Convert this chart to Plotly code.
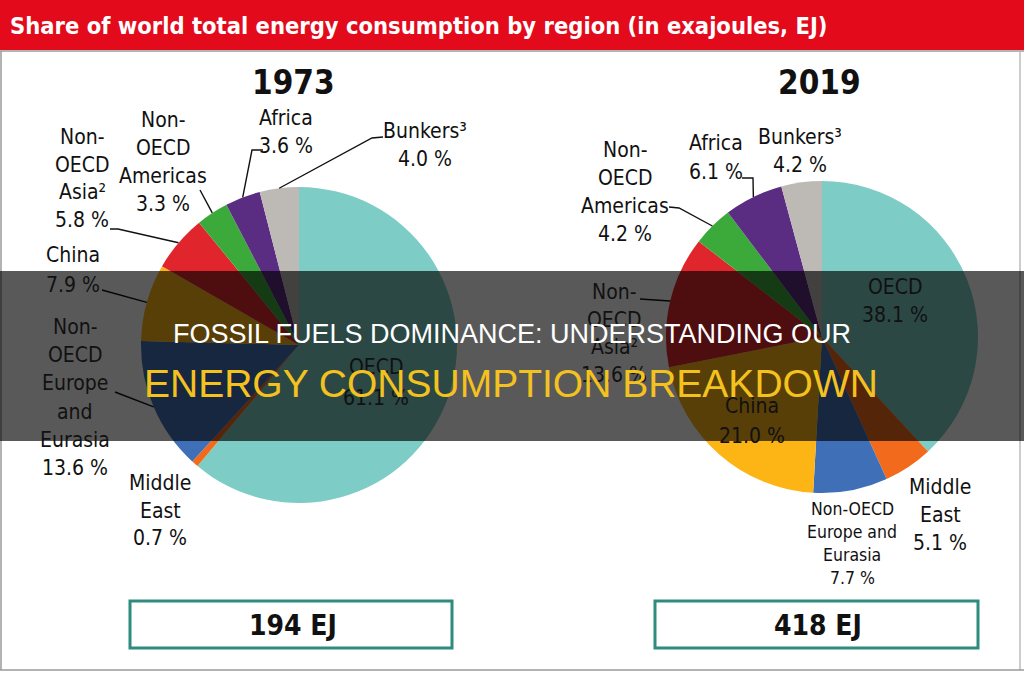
import math
import plotly.graph_objects as go

# ---------------- data ----------------
regions = ["OECD", "Middle East", "Non-OECD Europe and Eurasia", "China",
           "Non-OECD Asia", "Non-OECD Americas", "Africa", "Bunkers"]
share_1973 = [61.1, 0.7, 13.6, 7.9, 5.8, 3.3, 3.6, 4.0]
share_2019 = [38.1, 5.1, 7.7, 21.0, 13.6, 4.2, 6.1, 4.2]
total_1973 = 194
total_2019 = 418
years = ["1973", "2019"]
colors = ["#7DCDC6", "#F26B1D", "#3F6FB6", "#FDB516",
          "#E0262C", "#3BAA3A", "#5A2D82", "#BDBAB5"]

W, H = 1024, 680
NARROW = "DejaVu Sans Condensed, Liberation Sans Narrow, sans-serif"
SANS = "Liberation Sans, Arial, sans-serif"

# pie geometry (pixels): centre x, centre y, radius
pies = [(299, 345, 158), (822, 337, 156)]
shares = [share_1973, share_2019]
totals = [total_1973, total_2019]

fig = go.Figure()
for (cx, cy, r), vals, yr in zip(pies, shares, years):
    fig.add_trace(go.Pie(
        labels=regions, values=vals, sort=False, direction="clockwise",
        rotation=0, marker=dict(colors=colors, line=dict(width=0)),
        textinfo="none", hoverinfo="label+value", showlegend=False,
        domain=dict(x=[(cx - r) / W, (cx + r) / W],
                    y=[1 - (cy + r) / H, 1 - (cy - r) / H]),
        name=yr))

# invisible full-canvas axes for pixel-positioned shapes / annotations
fig.add_trace(go.Scatter(x=[0, W], y=[0, H], mode="markers",
                         marker=dict(opacity=0), hoverinfo="skip", showlegend=False))


def edge_point(pie_idx, region):
    cx, cy, r = pies[pie_idx]
    vals = shares[pie_idx]
    i = regions.index(region)
    tot = sum(vals)
    mid = (sum(vals[:i]) + vals[i] / 2) / tot * 2 * math.pi
    return cx + r * math.sin(mid), cy - r * math.cos(mid)


shapes = []
annotations = []

LBL = 21


def text_block(lines, x, y0, sp, size=LBL, color="#111", bold=False, family=NARROW):
    for k, t in enumerate(lines):
        annotations.append(dict(
            x=x, y=y0 + k * sp, xref="x", yref="y", text=f"<b>{t}</b>" if bold else t,
            showarrow=False, xanchor="center", yanchor="middle",
            font=dict(family=family, size=size, color=color)))


def leader(pie_idx, region, pts):
    ex, ey = edge_point(pie_idx, region)
    path = "M " + " L ".join(f"{px},{py}" for px, py in pts + [(ex, ey)])
    shapes.append(dict(type="path", path=path, xref="x", yref="y", layer="above",
                       line=dict(color="#111", width=1.4)))


# header band
shapes.append(dict(type="rect", x0=0, x1=W, y0=0, y1=50, xref="x", yref="y",
                   fillcolor="#E30A1C", line=dict(width=0), layer="above"))
shapes.append(dict(type="line", x0=0, x1=W, y0=51, y1=51, xref="x", yref="y",
                   line=dict(color="#9A9A9A", width=1.5), layer="above"))
annotations.append(dict(x=8, y=26, xref="x", yref="y", xanchor="left", yanchor="middle",
                        text="<b>Share of world total energy consumption by region (in exajoules, EJ)</b>",
                        showarrow=False,
                        font=dict(family=NARROW, size=23.5, color="white")))
# frame lines
shapes.append(dict(type="line", x0=1, x1=1, y0=51, y1=670, xref="x", yref="y",
                   line=dict(color="#9A9A9A", width=1.5), layer="above"))
shapes.append(dict(type="line", x0=1020, x1=1020, y0=51, y1=670, xref="x", yref="y",
                   line=dict(color="#BBBBBB", width=1.5), layer="above"))
shapes.append(dict(type="line", x0=0, x1=W, y0=670, y1=670, xref="x", yref="y",
                   line=dict(color="#9A9A9A", width=1.5), layer="above"))

# year titles
text_block([years[0]], 293, 82, 0, size=33, bold=True)
text_block([years[1]], 819, 82, 0, size=33, bold=True)

# 1973 labels
text_block(["Non-", "OECD", "Asia²", f"{share_1973[4]} %"], 82, 137, 27.5)
text_block(["Non-", "OECD", "Americas", f"{share_1973[5]} %"], 163, 120, 28)
text_block(["Africa", f"{share_1973[6]} %"], 286, 118, 28)
text_block(["Bunkers³", f"{share_1973[7]} %"], 425, 131, 28)
text_block(["China", f"{share_1973[3]} %"], 73, 255, 30)
text_block(["Non-", "OECD", "Europe", "and", "Eurasia", f"{share_1973[2]} %"], 75, 327, 28.2)
text_block(["Middle", "East", f"{share_1973[1]} %"], 160, 483, 27.5)
text_block(["OECD", f"{share_1973[0]} %"], 376, 367, 31)

leader(0, "Non-OECD Asia", [(110, 229), (118, 229)])
leader(0, "Non-OECD Americas", [(200, 190)])
leader(0, "Africa", [(263, 150), (252, 150)])
leader(0, "Bunkers", [(383, 137), (372, 138)])
leader(0, "China", [(102, 290)])
leader(0, "Non-OECD Europe and Eurasia", [(115, 392)])

# 2019 labels
text_block(["Non-", "OECD", "Americas", f"{share_2019[5]} %"], 625, 150, 28)
text_block(["Africa", f"{share_2019[6]} %"], 716, 143, 29)
text_block(["Bunkers³", f"{share_2019[7]} %"], 800, 137, 28)
text_block(["OECD", f"{share_2019[0]} %"], 895, 287, 28)
text_block(["Non-", "OECD", "Asia²", f"{share_2019[4]} %"], 614, 292, 27.7)
text_block(["China", f"{share_2019[3]} %"], 752, 406, 30)
text_block(["Non-OECD", "Europe and", "Eurasia", f"{share_2019[2]} %"], 852, 509, 23, size=17.5)
text_block(["Middle", "East", f"{share_2019[1]} %"], 940, 487, 28)

leader(1, "Non-OECD Americas", [(669, 207), (679, 208)])
leader(1, "Africa", [(742, 178), (753, 178)])
leader(1, "Non-OECD Asia", [(640, 299)])

# total boxes
for (x0, x1, y0, y1, xc), tot in zip([(130, 452, 601, 648, 293), (655, 978, 601, 648, 818)], totals):
    shapes.append(dict(type="rect", x0=x0, x1=x1, y0=y0, y1=y1, xref="x", yref="y",
                       fillcolor="white", line=dict(color="#2E8B7D", width=3), layer="above"))
    text_block([f"{tot} EJ"], xc, 625, 0, size=28, bold=True)

# dark overlay banner
shapes.append(dict(type="rect", x0=0, x1=W, y0=271, y1=441, xref="x", yref="y",
                   fillcolor="rgba(0,0,0,0.65)", line=dict(width=0), layer="above"))
annotations.append(dict(x=512, y=334, xref="x", yref="y", showarrow=False,
                        text="FOSSIL FUELS DOMINANCE: UNDERSTANDING OUR",
                        xanchor="center", yanchor="middle",
                        font=dict(family=SANS, size=27, color="white")))
annotations.append(dict(x=511, y=383, xref="x", yref="y", showarrow=False,
                        text="ENERGY CONSUMPTION BREAKDOWN",
                        xanchor="center", yanchor="middle",
                        font=dict(family=SANS, size=39, color="#F4C21F")))

fig.update_layout(
    width=W, height=H, margin=dict(l=0, r=0, t=0, b=0),
    paper_bgcolor="white", plot_bgcolor="white",
    xaxis=dict(range=[0, W], visible=False, fixedrange=True, domain=[0, 1]),
    yaxis=dict(range=[H, 0], visible=False, fixedrange=True, domain=[0, 1]),
    shapes=shapes, annotations=annotations, showlegend=False,
)

fig.write_html("out.html")
